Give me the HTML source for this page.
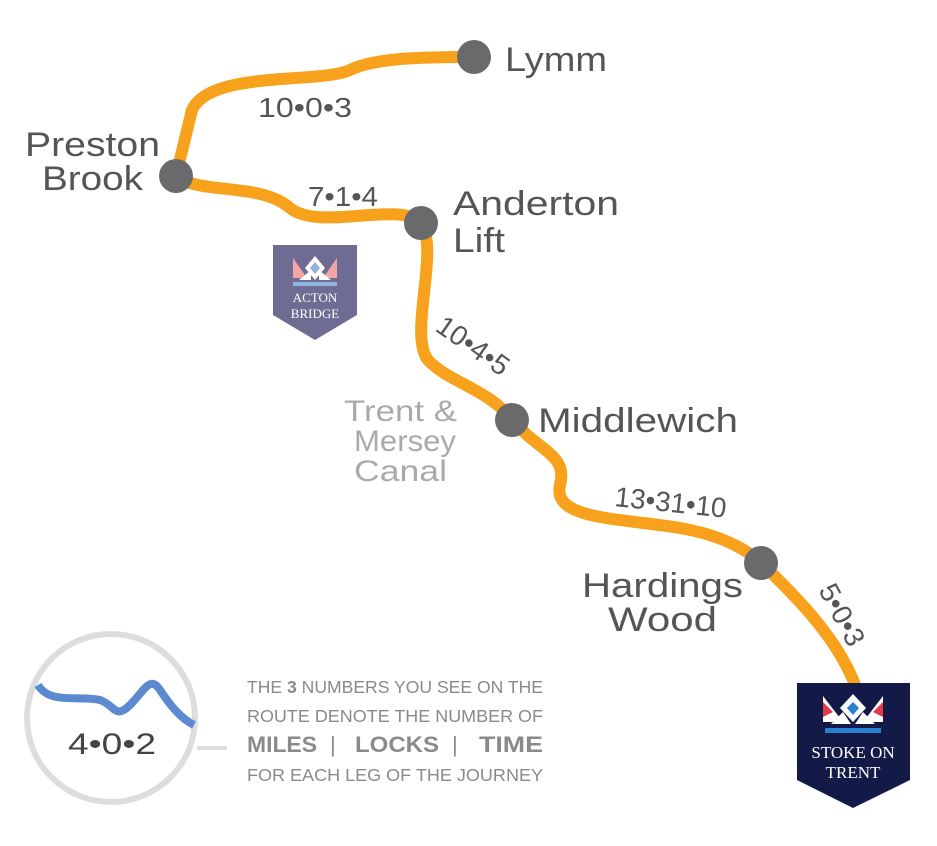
<!DOCTYPE html>
<html><head><meta charset="utf-8"><style>
body{margin:0;background:#fff;width:937px;height:841px;overflow:hidden}
svg text{font-family:"Liberation Sans",sans-serif;}
</style></head><body>
<svg width="937" height="841" viewBox="0 0 937 841" xmlns="http://www.w3.org/2000/svg">
<path d="M474,57 C420,57 375,58 350,70 C320,84 210,70 192,110 L176,176 C200,195 260,182 290,208 C320,232 400,200 421,223 C440,250 408,335 428,360 C448,382 490,390 512,420 C540,452 568,455 560,485 C552,520 620,518 680,528 C720,535 745,548 761,563 C800,600 838,640 855,685" fill="none" stroke="#f7a11c" stroke-width="12" stroke-linecap="round"/>
<g fill="#6a6a6d">
<circle cx="474" cy="57" r="17"/><circle cx="176" cy="176" r="17"/><circle cx="421" cy="223" r="17"/>
<circle cx="512" cy="420" r="17"/><circle cx="761" cy="563" r="17"/>
</g>
<g fill="#555" font-size="34">
<text x="505" y="71" textLength="102" lengthAdjust="spacingAndGlyphs">Lymm</text>
<text x="25" y="156" textLength="135" lengthAdjust="spacingAndGlyphs">Preston</text><text x="42" y="190" textLength="101" lengthAdjust="spacingAndGlyphs">Brook</text>
<text x="453" y="215" textLength="166" lengthAdjust="spacingAndGlyphs">Anderton</text><text x="453" y="252" textLength="52" lengthAdjust="spacingAndGlyphs">Lift</text>
<text x="538" y="432" textLength="200" lengthAdjust="spacingAndGlyphs">Middlewich</text>
<text x="582" y="597" textLength="161" lengthAdjust="spacingAndGlyphs">Hardings</text><text x="608" y="631" textLength="109" lengthAdjust="spacingAndGlyphs">Wood</text>
</g>
<g fill="#aaa" font-size="30">
<text x="344" y="421" textLength="113" lengthAdjust="spacingAndGlyphs">Trent &amp;</text><text x="354" y="451" textLength="102" lengthAdjust="spacingAndGlyphs">Mersey</text><text x="354" y="481" textLength="93" lengthAdjust="spacingAndGlyphs">Canal</text>
</g>
<g fill="#555" font-size="28">
<text x="258" y="117" textLength="94" lengthAdjust="spacingAndGlyphs">10•0•3</text>
<text x="308" y="206" textLength="70" lengthAdjust="spacingAndGlyphs">7•1•4</text>
<text transform="translate(434,330) rotate(35)">10•4•5</text>
<text transform="translate(614,506) rotate(6)" textLength="112" lengthAdjust="spacingAndGlyphs">13•31•10</text>
<text transform="translate(818,590) rotate(62)">5•0•3</text>
</g>
<path d="M273,245 H357 V315 L315,340 L273,315 Z" fill="#6e6c93"/>
<g transform="translate(315,270)">
<polygon points="-22,-12 -8,8 -22,8" fill="#f3a6a6"/><polygon points="22,-12 8,8 22,8" fill="#f3a6a6"/>
<polygon points="0,-14 10,-2 0,10 -10,-2" fill="#fff"/><polygon points="0,-8 5,-2 0,4 -5,-2" fill="#8fb4e0"/>
<polygon points="-16,10 -4,0 -4,10" fill="#fff"/><polygon points="16,10 4,0 4,10" fill="#fff"/>
<rect x="-22" y="12" width="44" height="4" fill="#8fb4e0"/>
</g>
<text x="315" y="302" fill="#fff" font-size="13" text-anchor="middle" style="font-family:'Liberation Serif',serif">ACTON</text>
<text x="315" y="318" fill="#fff" font-size="13" text-anchor="middle" style="font-family:'Liberation Serif',serif">BRIDGE</text>
<path d="M797,683 H910 V780 L853,808 L797,780 Z" fill="#141a48"/>
<g transform="translate(853,712)">
<polygon points="-30,-16 -10,10 -30,10" fill="#fff"/><polygon points="30,-16 10,10 30,10" fill="#fff"/>
<polygon points="-30,-10 -20,0 -30,5" fill="#e23a4a"/><polygon points="30,-10 20,0 30,5" fill="#e23a4a"/>
<polygon points="0,-18 13,-4 0,10 -13,-4" fill="#fff"/><polygon points="0,-10 6,-4 0,3 -6,-4" fill="#2a7fd0"/>
<polygon points="-22,12 -10,0 -2,12" fill="#fff"/><polygon points="22,12 10,0 2,12" fill="#fff"/>
<rect x="-28" y="16" width="56" height="5" fill="#2a7fd0"/>
</g>
<text x="853" y="758" fill="#fff" font-size="17" text-anchor="middle" style="font-family:'Liberation Serif',serif">STOKE ON</text>
<text x="853" y="778" fill="#fff" font-size="17" text-anchor="middle" style="font-family:'Liberation Serif',serif">TRENT</text>
<circle cx="111" cy="718" r="84" fill="#fff" stroke="#ddd" stroke-width="6"/>
<path d="M38,685 C50,705 80,695 100,700 C115,705 115,720 130,705 C145,690 150,675 160,690 C170,705 180,718 194,725" fill="none" stroke="#5b8ad0" stroke-width="8"/>
<line x1="197" y1="748" x2="227" y2="748" stroke="#ddd" stroke-width="4"/>
<text x="68" y="754" fill="#444" font-size="30" textLength="88" lengthAdjust="spacingAndGlyphs">4•0•2</text>
<g fill="#8a8a8a" font-size="17.5">
<text x="247" y="693" textLength="296" lengthAdjust="spacingAndGlyphs">THE <tspan font-weight="bold">3</tspan> NUMBERS YOU SEE ON THE</text>
<text x="247" y="722" textLength="296" lengthAdjust="spacingAndGlyphs">ROUTE DENOTE THE NUMBER OF</text>
<text x="247" y="752" font-weight="bold" font-size="22">
<tspan x="247" textLength="70" lengthAdjust="spacingAndGlyphs">MILES</tspan>
<tspan x="330" font-weight="normal">|</tspan>
<tspan x="355" textLength="84" lengthAdjust="spacingAndGlyphs">LOCKS</tspan>
<tspan x="452" font-weight="normal">|</tspan>
<tspan x="479" textLength="64" lengthAdjust="spacingAndGlyphs">TIME</tspan></text>
<text x="247" y="781" textLength="296" lengthAdjust="spacingAndGlyphs">FOR EACH LEG OF THE JOURNEY</text>
</g>
</svg>
</body></html>
